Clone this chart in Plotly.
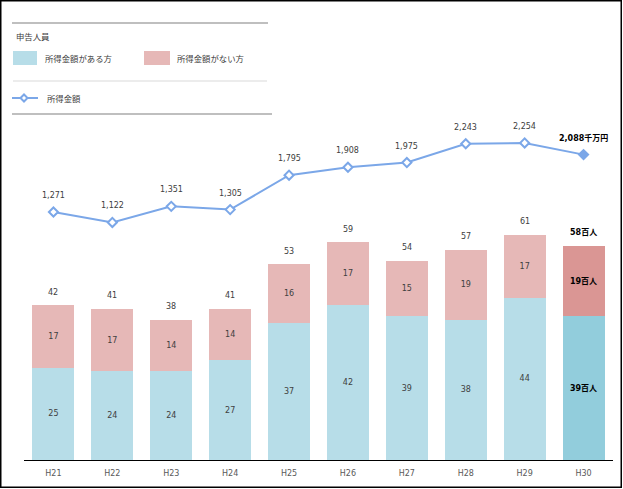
import plotly.graph_objects as go

categories = ["H21", "H22", "H23", "H24", "H25", "H26", "H27", "H28", "H29", "H30"]
with_income = [25, 24, 24, 27, 37, 42, 39, 38, 44, 39]
without_income = [17, 17, 14, 14, 16, 17, 15, 19, 17, 19]
totals = [42, 41, 38, 41, 53, 59, 54, 57, 61, 58]
income_amount = [1271, 1122, 1351, 1305, 1795, 1908, 1975, 2243, 2254, 2088]

W, H = 623, 489
ML, MR, MT, MB = 24, 10, 100, 29
PW = W - ML - MR
PH = H - MT - MB

def px(x):
    return (x - ML) / PW

def py(y):
    return (H - MB - y) / PH

BLUE = "#b7dde8"
BLUE_DARK = "#92cddc"
PINK = "#e6b8b7"
PINK_DARK = "#da9694"
LINE = "#7ba7e8"
TXT = "#404040"
NUMFONT = "DejaVu Sans, Noto Sans CJK JP"
JPFONT = "Noto Sans CJK JP, DejaVu Sans"

n = len(categories)
last = n - 1

blue_colors = [BLUE] * last + [BLUE_DARK]
pink_colors = [PINK] * last + [PINK_DARK]
blue_text = [str(v) for v in with_income[:last]] + [f"<b>{with_income[last]}百人</b>"]
pink_text = [str(v) for v in without_income[:last]] + [f"<b>{without_income[last]}百人</b>"]
lbl_colors = [TXT] * last + ["#000000"]

fig = go.Figure()
fig.add_trace(go.Bar(
    x=categories, y=with_income, marker=dict(color=blue_colors, line=dict(width=0)),
    text=blue_text, textposition="inside", insidetextanchor="middle", textangle=0,
    constraintext="none",
    insidetextfont=dict(family=NUMFONT, size=8, color=lbl_colors),
    showlegend=False, hoverinfo="skip",
))
fig.add_trace(go.Bar(
    x=categories, y=without_income, marker=dict(color=pink_colors, line=dict(width=0)),
    text=pink_text, textposition="inside", insidetextanchor="middle", textangle=0,
    constraintext="none",
    insidetextfont=dict(family=NUMFONT, size=8, color=lbl_colors),
    showlegend=False, hoverinfo="skip",
))
fig.add_trace(go.Scatter(
    x=categories, y=income_amount, yaxis="y2", mode="lines+markers",
    line=dict(color=LINE, width=2),
    marker=dict(symbol="diamond", size=7, color=["white"] * last + [LINE],
                line=dict(color=LINE, width=2)),
    showlegend=False, hoverinfo="skip",
))

annotations = []
for i, (c, t) in enumerate(zip(categories, totals)):
    txt = f"<b>{t}百人</b>" if i == last else str(t)
    annotations.append(dict(
        x=c, y=t, xref="x", yref="y", text=txt, showarrow=False,
        yshift=13, font=dict(family=NUMFONT, size=8, color="#000000" if i == last else TXT),
    ))
for i, (c, v) in enumerate(zip(categories, income_amount)):
    s = f"{v:,}"
    txt = f"<b>{s}千万円</b>" if i == last else s
    annotations.append(dict(
        x=c, y=v, xref="x", yref="y2", text=txt, showarrow=False,
        yshift=16.5, font=dict(family=NUMFONT, size=8, color="#000000" if i == last else TXT),
    ))

# legend block (drawn manually)
legend_texts = [
    ("申告人員", 14, 36),
    ("所得金額がある方", 43, 58),
    ("所得金額がない方", 175, 58),
    ("所得金額", 45, 98),
]
for t, x, y in legend_texts:
    annotations.append(dict(
        x=px(x), y=py(y), xref="paper", yref="paper", text=t, showarrow=False,
        xanchor="left", yanchor="middle", font=dict(family=JPFONT, size=8.4, color=TXT),
    ))

shapes = [
    dict(type="rect", xref="paper", yref="paper", x0=px(0.75), x1=px(621.25),
         y0=py(0.75), y1=py(487.25), line=dict(color="#000000", width=1.5)),
    dict(type="line", xref="paper", yref="paper", x0=px(12), x1=px(268),
         y0=py(23), y1=py(23), line=dict(color="#bfbfbf", width=2)),
    dict(type="line", xref="paper", yref="paper", x0=px(13), x1=px(267),
         y0=py(81), y1=py(81), line=dict(color="#d9d9d9", width=1)),
    dict(type="line", xref="paper", yref="paper", x0=px(12), x1=px(272),
         y0=py(114), y1=py(114), line=dict(color="#bfbfbf", width=2)),
    dict(type="rect", xref="paper", yref="paper", x0=px(13), x1=px(37),
         y0=py(51), y1=py(65), line=dict(width=0), fillcolor=BLUE),
    dict(type="rect", xref="paper", yref="paper", x0=px(144), x1=px(170),
         y0=py(51), y1=py(65), line=dict(width=0), fillcolor=PINK),
    dict(type="line", xref="paper", yref="paper", x0=px(12), x1=px(38),
         y0=py(98), y1=py(98), line=dict(color=LINE, width=2)),
    dict(type="path", xref="paper", yref="paper",
         path=(f"M {px(20.5)} {py(98)} L {px(24)} {py(94.5)} L {px(27.5)} {py(98)} "
               f"L {px(24)} {py(101.5)} Z"),
         fillcolor="white", line=dict(color=LINE, width=2)),
]

fig.update_layout(
    width=W, height=H,
    margin=dict(l=ML, r=MR, t=MT, b=MB),
    paper_bgcolor="white", plot_bgcolor="white",
    barmode="stack", bargap=0.287,
    xaxis=dict(range=[-0.5, 9.5], showline=True, linecolor="#000000", linewidth=1,
               ticks="", showgrid=False, zeroline=False, ticklabelstandoff=5,
               tickfont=dict(family=NUMFONT, size=8, color="#595959")),
    yaxis=dict(range=[0, 97.56], visible=False, showgrid=False, zeroline=False),
    yaxis2=dict(range=[-2262, 2866], overlaying="y", visible=False,
                showgrid=False, zeroline=False),
    annotations=annotations,
    shapes=shapes,
    showlegend=False,
)

fig.write_html("out.html", config={"displayModeBar": False},
               post_script="document.body.style.margin='0';")
